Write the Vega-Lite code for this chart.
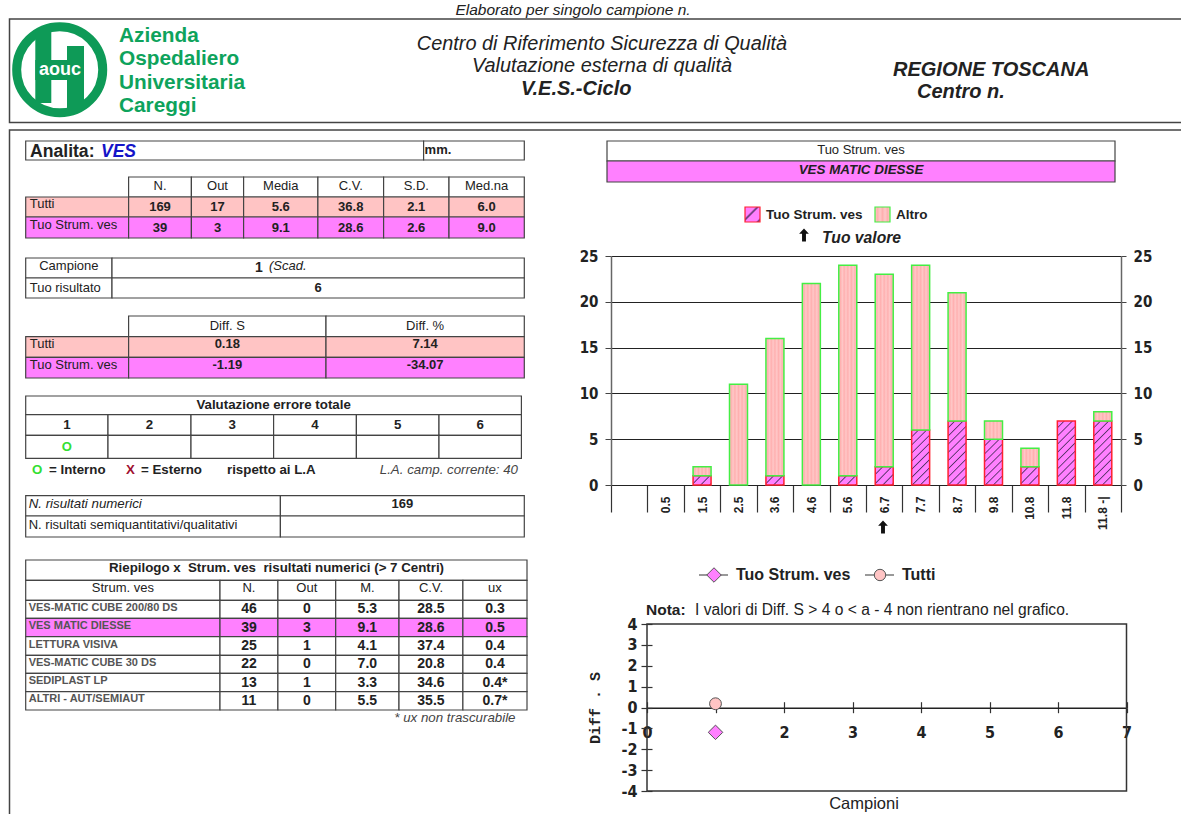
{"$schema":"https://vega.github.io/schema/vega-lite/v6.json","width":1181,"height":814,"padding":0,"autosize":{"type":"none"},"background":"#ffffff","config":{"view":{"stroke":null},"text":{"font":"Liberation Sans","baseline":"middle","fontSize":13,"color":"#222222"},"rect":{"stroke":"#444444","strokeWidth":1.2}},
"resolve":{"scale":{"x":"independent","y":"independent","fill":"independent","stroke":"independent","color":"independent","shape":"independent","size":"independent"},"axis":{"x":"independent","y":"independent"}},
"layer":[
{"data":{"values":[{"c":0,"c2":1,"r":0,"r2":1},{"c":0,"c2":1,"r":2,"r2":3}]},"mark":{"type":"rect","fill":"transparent","stroke":"#444444","strokeWidth":1.5},"encoding":{"x":{"field":"c","type":"quantitative","scale":{"domain":[0,1],"range":[9.5,1300]},"axis":null},"x2":{"field":"c2"},"y":{"field":"r","type":"quantitative","scale":{"domain":[0,1,2,3],"range":[19,122.5,130,900]},"axis":null},"y2":{"field":"r2"}}},
{"data":{"values":[{"c":0,"r":0}]},"mark":{"type":"point","filled":false,"opacity":1,"stroke":"#0e9a57","strokeWidth":9,"size":7400},"encoding":{"x":{"field":"c","type":"quantitative","scale":{"domain":[0,1],"range":[59.7,60.7]},"axis":null},"y":{"field":"r","type":"quantitative","scale":{"domain":[0,1],"range":[69.7,70.7]},"axis":null}}},
{"data":{"values":[{"c":0,"c2":1,"r":0,"r2":4},{"c":2,"c2":3,"r":1,"r2":5},{"c":0,"c2":3,"r":2,"r2":3}]},"mark":{"type":"rect","fill":"#0e9a57","stroke":null},"encoding":{"x":{"field":"c","type":"quantitative","scale":{"domain":[0,1,2,3],"range":[35.3,51.3,67,84]},"axis":null},"x2":{"field":"c2"},"y":{"field":"r","type":"quantitative","scale":{"domain":[0,1,2,3,4,5],"range":[30,46,60,80,103,110]},"axis":null},"y2":{"field":"r2"}}},
{"data":{"values":[{"c":0,"r":0,"v":"aouc"}]},"mark":{"type":"text","fontWeight":"bold","fontSize":18,"color":"#ffffff","align":"center"},"encoding":{"x":{"field":"c","type":"quantitative","scale":{"domain":[0,1],"range":[60,61]},"axis":null},"y":{"field":"r","type":"quantitative","scale":{"domain":[0,1],"range":[70,71]},"axis":null},"text":{"field":"v"}}},
{"data":{"values":[{"c":0,"r":0,"v":"Azienda"},{"c":0,"r":1,"v":"Ospedaliero"},{"c":0,"r":2,"v":"Universitaria"},{"c":0,"r":3,"v":"Careggi"}]},"mark":{"type":"text","fontWeight":"bold","fontSize":20.8,"color":"#0ea35c","align":"left"},"encoding":{"x":{"field":"c","type":"quantitative","scale":{"domain":[0,1],"range":[119,120]},"axis":null},"y":{"field":"r","type":"quantitative","scale":{"domain":[0,3],"range":[36,106]},"axis":null},"text":{"field":"v"}}},
{"data":{"values":[{"c":0,"r":0,"v":"Elaborato per singolo campione n."}]},"mark":{"type":"text","fontStyle":"italic","fontSize":15.5,"align":"center"},"encoding":{"x":{"field":"c","type":"quantitative","scale":{"domain":[0,1],"range":[573,574]},"axis":null},"y":{"field":"r","type":"quantitative","scale":{"domain":[0,1],"range":[10,11]},"axis":null},"text":{"field":"v"}}},
{"data":{"values":[{"c":0,"r":0,"v":"Centro di Riferimento Sicurezza di Qualità"},{"c":0,"r":1,"v":"Valutazione esterna di qualità"}]},"mark":{"type":"text","fontStyle":"italic","fontSize":19.9,"align":"center"},"encoding":{"x":{"field":"c","type":"quantitative","scale":{"domain":[0,1],"range":[602,603]},"axis":null},"y":{"field":"r","type":"quantitative","scale":{"domain":[0,1],"range":[44,66]},"axis":null},"text":{"field":"v"}}},
{"data":{"values":[{"c":0,"r":0,"v":"V.E.S.-Ciclo"},{"c":1,"r":1,"v":"Centro n."},{"c":2,"r":2,"v":"REGIONE TOSCANA"}]},"mark":{"type":"text","fontStyle":"italic","fontWeight":"bold","fontSize":20,"align":"left"},"encoding":{"x":{"field":"c","type":"quantitative","scale":{"domain":[0,1,2],"range":[521,917,893]},"axis":null},"y":{"field":"r","type":"quantitative","scale":{"domain":[0,1,2],"range":[89,92,70]},"axis":null},"text":{"field":"v"}}},

{"data":{"values":[{"r":0,"c":0,"v":""},{"r":0,"c":1,"v":"mm."}]},"transform":[{"calculate":"datum.c+1","as":"c2"},{"calculate":"datum.r+1","as":"r2"}],"layer":[
{"mark":{"type":"rect","fill":"#ffffff"},"encoding":{"x":{"field":"c","type":"quantitative","scale":{"domain":[0,1,2],"range":[25.7,423.6,524.3]},"axis":null},"x2":{"field":"c2"},"y":{"field":"r","type":"quantitative","scale":{"domain":[0,1],"range":[141,160]},"axis":null},"y2":{"field":"r2"}}},
{"mark":{"type":"text","fontWeight":"bold","fontSize":13,"align":"left","dx":1,"dy":9},"encoding":{"x":{"field":"c","type":"quantitative","axis":null},"y":{"field":"r","type":"quantitative","axis":null},"text":{"field":"v"}}}]},
{"data":{"values":[{"c":0,"v":"Analita:"}]},"mark":{"type":"text","fontWeight":"bold","fontSize":17.6,"align":"left"},"encoding":{"x":{"field":"c","type":"quantitative","scale":{"domain":[0,1],"range":[30,31]},"axis":null},"y":{"datum":0,"type":"quantitative","scale":{"domain":[0,1],"range":[152,153]},"axis":null},"text":{"field":"v"}}},
{"data":{"values":[{"c":0,"v":"VES"}]},"mark":{"type":"text","fontWeight":"bold","fontStyle":"italic","fontSize":17.5,"align":"left","color":"#1414c8"},"encoding":{"x":{"field":"c","type":"quantitative","scale":{"domain":[0,1],"range":[101,102]},"axis":null},"y":{"datum":0,"type":"quantitative","scale":{"domain":[0,1],"range":[152,153]},"axis":null},"text":{"field":"v"}}},

{"data":{"values":[{"r":0,"c":1,"v":"N.","k":"h","g":"-"},{"r":0,"c":2,"v":"Out","k":"h","g":"-"},{"r":0,"c":3,"v":"Media","k":"h","g":"-"},{"r":0,"c":4,"v":"C.V.","k":"h","g":"-"},{"r":0,"c":5,"v":"S.D.","k":"h","g":"-"},{"r":0,"c":6,"v":"Med.na","k":"h","g":"-"},
{"r":1,"c":0,"v":"Tutti","k":"l","g":"Tutti"},{"r":1,"c":1,"v":"169","k":"v","g":"Tutti"},{"r":1,"c":2,"v":"17","k":"v","g":"Tutti"},{"r":1,"c":3,"v":"5.6","k":"v","g":"Tutti"},{"r":1,"c":4,"v":"36.8","k":"v","g":"Tutti"},{"r":1,"c":5,"v":"2.1","k":"v","g":"Tutti"},{"r":1,"c":6,"v":"6.0","k":"v","g":"Tutti"},
{"r":2,"c":0,"v":"Tuo Strum. ves","k":"l","g":"Tuo"},{"r":2,"c":1,"v":"39","k":"v","g":"Tuo"},{"r":2,"c":2,"v":"3","k":"v","g":"Tuo"},{"r":2,"c":3,"v":"9.1","k":"v","g":"Tuo"},{"r":2,"c":4,"v":"28.6","k":"v","g":"Tuo"},{"r":2,"c":5,"v":"2.6","k":"v","g":"Tuo"},{"r":2,"c":6,"v":"9.0","k":"v","g":"Tuo"}]},
"transform":[{"calculate":"datum.c+1","as":"c2"},{"calculate":"datum.c+0.5","as":"cm"},{"calculate":"datum.r+1","as":"r2"},{"calculate":"datum.r+0.5","as":"rm"}],"layer":[
{"mark":{"type":"rect"},"encoding":{"x":{"field":"c","type":"quantitative","scale":{"domain":[0,1,2,3,4,5,6,7],"range":[25.7,128.6,191.4,243.6,317.9,383.6,449,524.3]},"axis":null},"x2":{"field":"c2"},"y":{"field":"r","type":"quantitative","scale":{"domain":[0,1,2,3],"range":[177,197,217,238]},"axis":null},"y2":{"field":"r2"},"fill":{"field":"g","type":"nominal","scale":{"domain":["-","Tutti","Tuo"],"range":["#ffffff","#ffc4c4","#ff80ff"]},"legend":null}}},
{"transform":[{"filter":"datum.k=='h'"}],"mark":{"type":"text","align":"center","dy":-1},"encoding":{"x":{"field":"cm","type":"quantitative","axis":null},"y":{"field":"rm","type":"quantitative","axis":null},"text":{"field":"v"}}},
{"transform":[{"filter":"datum.k=='v'"}],"mark":{"type":"text","align":"center","fontWeight":"bold"},"encoding":{"x":{"field":"cm","type":"quantitative","axis":null},"y":{"field":"rm","type":"quantitative","axis":null},"text":{"field":"v"}}},
{"transform":[{"filter":"datum.k=='l'"}],"mark":{"type":"text","align":"left","dx":4,"dy":-3},"encoding":{"x":{"field":"c","type":"quantitative","axis":null},"y":{"field":"rm","type":"quantitative","axis":null},"text":{"field":"v"}}}]},

{"data":{"values":[{"r":0,"c":0,"v":"Campione","k":"h"},{"r":0,"c":1,"v":"","k":"h"},{"r":1,"c":0,"v":"Tuo risultato","k":"l"},{"r":1,"c":1,"v":"6","k":"v"}]},
"transform":[{"calculate":"datum.c+1","as":"c2"},{"calculate":"datum.c+0.5","as":"cm"},{"calculate":"datum.r+1","as":"r2"},{"calculate":"datum.r+0.5","as":"rm"}],"layer":[
{"mark":{"type":"rect","fill":"#ffffff"},"encoding":{"x":{"field":"c","type":"quantitative","scale":{"domain":[0,1,2],"range":[25.7,112,524.3]},"axis":null},"x2":{"field":"c2"},"y":{"field":"r","type":"quantitative","scale":{"domain":[0,1,2],"range":[258,278,298]},"axis":null},"y2":{"field":"r2"}}},
{"transform":[{"filter":"datum.k=='h'"}],"mark":{"type":"text","align":"center","dy":-2},"encoding":{"x":{"field":"cm","type":"quantitative","axis":null},"y":{"field":"rm","type":"quantitative","axis":null},"text":{"field":"v"}}},
{"transform":[{"filter":"datum.k=='v'"}],"mark":{"type":"text","align":"center","fontWeight":"bold"},"encoding":{"x":{"field":"cm","type":"quantitative","axis":null},"y":{"field":"rm","type":"quantitative","axis":null},"text":{"field":"v"}}},
{"transform":[{"filter":"datum.k=='l'"}],"mark":{"type":"text","align":"left","dx":4},"encoding":{"x":{"field":"c","type":"quantitative","axis":null},"y":{"field":"rm","type":"quantitative","axis":null},"text":{"field":"v"}}}]},
{"data":{"values":[{"c":0,"v":"1"}]},"mark":{"type":"text","fontWeight":"bold","fontSize":14,"align":"center"},"encoding":{"x":{"field":"c","type":"quantitative","scale":{"domain":[0,1],"range":[259,260]},"axis":null},"y":{"datum":0,"type":"quantitative","scale":{"domain":[0,1],"range":[268,269]},"axis":null},"text":{"field":"v"}}},
{"data":{"values":[{"c":0,"v":"(Scad."}]},"mark":{"type":"text","fontStyle":"italic","fontSize":13,"align":"left"},"encoding":{"x":{"field":"c","type":"quantitative","scale":{"domain":[0,1],"range":[269,270]},"axis":null},"y":{"datum":0,"type":"quantitative","scale":{"domain":[0,1],"range":[266,267]},"axis":null},"text":{"field":"v"}}},

{"data":{"values":[{"r":0,"c":1,"v":"Diff. S","k":"h","g":"-"},{"r":0,"c":2,"v":"Diff. %","k":"h","g":"-"},
{"r":1,"c":0,"v":"Tutti","k":"l","g":"Tutti"},{"r":1,"c":1,"v":"0.18","k":"v","g":"Tutti"},{"r":1,"c":2,"v":"7.14","k":"v","g":"Tutti"},
{"r":2,"c":0,"v":"Tuo Strum. ves","k":"l","g":"Tuo"},{"r":2,"c":1,"v":"-1.19","k":"v","g":"Tuo"},{"r":2,"c":2,"v":"-34.07","k":"v","g":"Tuo"}]},
"transform":[{"calculate":"datum.c+1","as":"c2"},{"calculate":"datum.c+0.5","as":"cm"},{"calculate":"datum.r+1","as":"r2"},{"calculate":"datum.r+0.5","as":"rm"}],"layer":[
{"mark":{"type":"rect"},"encoding":{"x":{"field":"c","type":"quantitative","scale":{"domain":[0,1,2,3],"range":[25.7,128.6,326,524.3]},"axis":null},"x2":{"field":"c2"},"y":{"field":"r","type":"quantitative","scale":{"domain":[0,1,2,3],"range":[316,336.7,357.3,378]},"axis":null},"y2":{"field":"r2"},"fill":{"field":"g","type":"nominal","scale":{"domain":["-","Tutti","Tuo"],"range":["#ffffff","#ffc4c4","#ff80ff"]},"legend":null}}},
{"transform":[{"filter":"datum.k=='h'"}],"mark":{"type":"text","align":"center"},"encoding":{"x":{"field":"cm","type":"quantitative","axis":null},"y":{"field":"rm","type":"quantitative","axis":null},"text":{"field":"v"}}},
{"transform":[{"filter":"datum.k=='v'"}],"mark":{"type":"text","align":"center","fontWeight":"bold","dy":-3},"encoding":{"x":{"field":"cm","type":"quantitative","axis":null},"y":{"field":"rm","type":"quantitative","axis":null},"text":{"field":"v"}}},
{"transform":[{"filter":"datum.k=='l'"}],"mark":{"type":"text","align":"left","dx":4,"dy":-3},"encoding":{"x":{"field":"c","type":"quantitative","axis":null},"y":{"field":"rm","type":"quantitative","axis":null},"text":{"field":"v"}}}]},

{"data":{"values":[{"r":0,"c":0,"s":6,"v":"Valutazione errore totale","k":"v"},
{"r":1,"c":0,"v":"1","k":"v"},{"r":1,"c":1,"v":"2","k":"v"},{"r":1,"c":2,"v":"3","k":"v"},{"r":1,"c":3,"v":"4","k":"v"},{"r":1,"c":4,"v":"5","k":"v"},{"r":1,"c":5,"v":"6","k":"v"},
{"r":2,"c":0,"v":"O","k":"o"},{"r":2,"c":1,"v":"","k":"o"},{"r":2,"c":2,"v":"","k":"o"},{"r":2,"c":3,"v":"","k":"o"},{"r":2,"c":4,"v":"","k":"o"},{"r":2,"c":5,"v":"","k":"o"}]},
"transform":[{"calculate":"datum.c+(datum.s||1)","as":"c2"},{"calculate":"datum.c+(datum.s||1)/2","as":"cm"},{"calculate":"datum.r+1","as":"r2"},{"calculate":"datum.r+0.5","as":"rm"}],"layer":[
{"mark":{"type":"rect","fill":"#ffffff"},"encoding":{"x":{"field":"c","type":"quantitative","scale":{"domain":[0,1,2,3,4,5,6],"range":[25.7,108,191,273.6,356.4,439,521.4]},"axis":null},"x2":{"field":"c2"},"y":{"field":"r","type":"quantitative","scale":{"domain":[0,1,2,3],"range":[396,414.7,435.3,458.3]},"axis":null},"y2":{"field":"r2"}}},
{"transform":[{"filter":"datum.k=='v'"}],"mark":{"type":"text","align":"center","fontWeight":"bold","fontSize":13.3},"encoding":{"x":{"field":"cm","type":"quantitative","axis":null},"y":{"field":"rm","type":"quantitative","axis":null},"text":{"field":"v"}}},
{"transform":[{"filter":"datum.k=='o'"}],"mark":{"type":"text","align":"center","fontWeight":"bold","color":"#33e033"},"encoding":{"x":{"field":"cm","type":"quantitative","axis":null},"y":{"field":"rm","type":"quantitative","axis":null},"text":{"field":"v"}}}]},
{"data":{"values":[{"c":0,"v":"O"},{"c":1,"v":"= Interno"},{"c":2,"v":"X"},{"c":3,"v":"= Esterno"},{"c":4,"v":"rispetto ai L.A"}]},"mark":{"type":"text","fontWeight":"bold","fontSize":13.3,"align":"left"},"encoding":{"x":{"field":"c","type":"quantitative","scale":{"domain":[0,1,2,3,4],"range":[32,49,126,141,227]},"axis":null},"y":{"datum":0,"type":"quantitative","scale":{"domain":[0,1],"range":[470,471]},"axis":null},"text":{"field":"v"},"color":{"field":"v","type":"nominal","scale":{"domain":["O","X","= Interno","= Esterno","rispetto ai L.A"],"range":["#33e033","#a01030","#222222","#222222","#222222"]},"legend":null}}},
{"data":{"values":[{"r":0,"v":"L.A. camp. corrente: 40"},{"r":1,"v":"* ux non trascurabile"}]},"mark":{"type":"text","fontStyle":"italic","fontSize":13.3,"align":"right","color":"#444444"},"encoding":{"x":{"field":"r","type":"quantitative","scale":{"domain":[0,1],"range":[518,515.5]},"axis":null},"y":{"field":"r","type":"quantitative","scale":{"domain":[0,1],"range":[470,718]},"axis":null},"text":{"field":"v"}}},

{"data":{"values":[{"r":0,"c":0,"v":"N. risultati numerici","k":"i"},{"r":0,"c":1,"v":"169","k":"v"},{"r":1,"c":0,"v":"N. risultati semiquantitativi/qualitativi","k":"l"},{"r":1,"c":1,"v":"","k":"v"}]},
"transform":[{"calculate":"datum.c+1","as":"c2"},{"calculate":"datum.c+0.5","as":"cm"},{"calculate":"datum.r+1","as":"r2"},{"calculate":"datum.r+0.5","as":"rm"}],"layer":[
{"mark":{"type":"rect","fill":"#ffffff"},"encoding":{"x":{"field":"c","type":"quantitative","scale":{"domain":[0,1,2],"range":[25.7,280.4,524.3]},"axis":null},"x2":{"field":"c2"},"y":{"field":"r","type":"quantitative","scale":{"domain":[0,1,2],"range":[495.7,516,537]},"axis":null},"y2":{"field":"r2"}}},
{"transform":[{"filter":"datum.k=='v'"}],"mark":{"type":"text","align":"center","fontWeight":"bold","dy":-2},"encoding":{"x":{"field":"cm","type":"quantitative","axis":null},"y":{"field":"rm","type":"quantitative","axis":null},"text":{"field":"v"}}},
{"transform":[{"filter":"datum.k=='i'"}],"mark":{"type":"text","align":"left","fontStyle":"italic","fontSize":13.3,"dx":3,"dy":-2},"encoding":{"x":{"field":"c","type":"quantitative","axis":null},"y":{"field":"rm","type":"quantitative","axis":null},"text":{"field":"v"}}},
{"transform":[{"filter":"datum.k=='l'"}],"mark":{"type":"text","align":"left","dx":3,"dy":-2},"encoding":{"x":{"field":"c","type":"quantitative","axis":null},"y":{"field":"rm","type":"quantitative","axis":null},"text":{"field":"v"}}}]},

{"data":{"values":[{"r":0,"c":0,"s":6,"v":"","k":"t","g":"-"},
{"r":1,"c":0,"v":"Strum. ves","k":"h","g":"-"},{"r":1,"c":1,"v":"N.","k":"h","g":"-"},{"r":1,"c":2,"v":"Out","k":"h","g":"-"},{"r":1,"c":3,"v":"M.","k":"h","g":"-"},{"r":1,"c":4,"v":"C.V.","k":"h","g":"-"},{"r":1,"c":5,"v":"ux","k":"h","g":"-"},
{"r":2,"c":0,"v":"VES-MATIC CUBE 200/80 DS","k":"s","g":"-"},{"r":2,"c":1,"v":"46","k":"v","g":"-"},{"r":2,"c":2,"v":"0","k":"v","g":"-"},{"r":2,"c":3,"v":"5.3","k":"v","g":"-"},{"r":2,"c":4,"v":"28.5","k":"v","g":"-"},{"r":2,"c":5,"v":"0.3","k":"v","g":"-"},
{"r":3,"c":0,"v":"VES MATIC DIESSE","k":"s","g":"Tuo"},{"r":3,"c":1,"v":"39","k":"v","g":"Tuo"},{"r":3,"c":2,"v":"3","k":"v","g":"Tuo"},{"r":3,"c":3,"v":"9.1","k":"v","g":"Tuo"},{"r":3,"c":4,"v":"28.6","k":"v","g":"Tuo"},{"r":3,"c":5,"v":"0.5","k":"v","g":"Tuo"},
{"r":4,"c":0,"v":"LETTURA VISIVA","k":"s","g":"-"},{"r":4,"c":1,"v":"25","k":"v","g":"-"},{"r":4,"c":2,"v":"1","k":"v","g":"-"},{"r":4,"c":3,"v":"4.1","k":"v","g":"-"},{"r":4,"c":4,"v":"37.4","k":"v","g":"-"},{"r":4,"c":5,"v":"0.4","k":"v","g":"-"},
{"r":5,"c":0,"v":"VES-MATIC CUBE 30 DS","k":"s","g":"-"},{"r":5,"c":1,"v":"22","k":"v","g":"-"},{"r":5,"c":2,"v":"0","k":"v","g":"-"},{"r":5,"c":3,"v":"7.0","k":"v","g":"-"},{"r":5,"c":4,"v":"20.8","k":"v","g":"-"},{"r":5,"c":5,"v":"0.4","k":"v","g":"-"},
{"r":6,"c":0,"v":"SEDIPLAST LP","k":"s","g":"-"},{"r":6,"c":1,"v":"13","k":"v","g":"-"},{"r":6,"c":2,"v":"1","k":"v","g":"-"},{"r":6,"c":3,"v":"3.3","k":"v","g":"-"},{"r":6,"c":4,"v":"34.6","k":"v","g":"-"},{"r":6,"c":5,"v":"0.4*","k":"v","g":"-"},
{"r":7,"c":0,"v":"ALTRI - AUT/SEMIAUT","k":"s","g":"-"},{"r":7,"c":1,"v":"11","k":"v","g":"-"},{"r":7,"c":2,"v":"0","k":"v","g":"-"},{"r":7,"c":3,"v":"5.5","k":"v","g":"-"},{"r":7,"c":4,"v":"35.5","k":"v","g":"-"},{"r":7,"c":5,"v":"0.7*","k":"v","g":"-"}]},
"transform":[{"calculate":"datum.c+(datum.s||1)","as":"c2"},{"calculate":"datum.c+(datum.s||1)/2","as":"cm"},{"calculate":"datum.r+1","as":"r2"},{"calculate":"datum.r+0.5","as":"rm"}],"layer":[
{"mark":{"type":"rect"},"encoding":{"x":{"field":"c","type":"quantitative","scale":{"domain":[0,1,2,3,4,5,6],"range":[25.7,220,277.9,335.7,399,462.9,527]},"axis":null},"x2":{"field":"c2"},"y":{"field":"r","type":"quantitative","scale":{"domain":[0,1,2,3,4,5,6,7,8],"range":[560,580.3,600.3,618.3,636.7,655.3,673.3,691.7,710]},"axis":null},"y2":{"field":"r2"},"fill":{"field":"g","type":"nominal","scale":{"domain":["-","Tuo"],"range":["#ffffff","#ff80ff"]},"legend":null}}},
{"transform":[{"filter":"datum.k=='h'"}],"mark":{"type":"text","align":"center","dy":-2},"encoding":{"x":{"field":"cm","type":"quantitative","axis":null},"y":{"field":"rm","type":"quantitative","axis":null},"text":{"field":"v"}}},
{"transform":[{"filter":"datum.k=='v'"}],"mark":{"type":"text","align":"center","fontWeight":"bold","fontSize":14},"encoding":{"x":{"field":"cm","type":"quantitative","axis":null},"y":{"field":"rm","type":"quantitative","axis":null},"text":{"field":"v"}}},
{"transform":[{"filter":"datum.k=='s'"}],"mark":{"type":"text","align":"left","fontWeight":"bold","fontSize":11,"color":"#555555","dx":3,"dy":-1.5},"encoding":{"x":{"field":"c","type":"quantitative","axis":null},"y":{"field":"rm","type":"quantitative","axis":null},"text":{"field":"v"}}}]},
{"data":{"values":[{"c":0,"v":"Riepilogo x\u00a0\u00a0Strum. ves\u00a0\u00a0risultati numerici (> 7 Centri)"}]},"mark":{"type":"text","align":"center","fontWeight":"bold","fontSize":13.3},"encoding":{"x":{"field":"c","type":"quantitative","scale":{"domain":[0,1],"range":[276.5,277.5]},"axis":null},"y":{"datum":0,"type":"quantitative","scale":{"domain":[0,1],"range":[568,569]},"axis":null},"text":{"field":"v"}}},

{"data":{"values":[{"r":0,"v":"Tuo Strum. ves","g":"-"},{"r":1,"v":"VES MATIC DIESSE","g":"Tuo"}]},"transform":[{"calculate":"datum.r+1","as":"r2"},{"calculate":"datum.r+0.5","as":"rm"},{"calculate":"0","as":"c"},{"calculate":"1","as":"c2"},{"calculate":"0.5","as":"cm"}],"layer":[
{"mark":{"type":"rect"},"encoding":{"x":{"field":"c","type":"quantitative","scale":{"domain":[0,1],"range":[607,1115]},"axis":null},"x2":{"field":"c2"},"y":{"field":"r","type":"quantitative","scale":{"domain":[0,1,2],"range":[141,161,182]},"axis":null},"y2":{"field":"r2"},"fill":{"field":"g","type":"nominal","scale":{"domain":["-","Tuo"],"range":["#ffffff","#ff80ff"]},"legend":null}}},
{"transform":[{"filter":"datum.r==0"}],"mark":{"type":"text","align":"center","fontSize":13,"dy":-1},"encoding":{"x":{"field":"cm","type":"quantitative","axis":null},"y":{"field":"rm","type":"quantitative","axis":null},"text":{"field":"v"}}},
{"transform":[{"filter":"datum.r==1"}],"mark":{"type":"text","align":"center","fontSize":13.4,"fontWeight":"bold","fontStyle":"italic","dy":-2},"encoding":{"x":{"field":"cm","type":"quantitative","axis":null},"y":{"field":"rm","type":"quantitative","axis":null},"text":{"field":"v"}}}]},

{"data":{"values":[{"serie":"Tuo Strum. ves","c":0,"c2":1},{"serie":"Altro","c":2,"c2":3}]},"mark":{"type":"rect"},"encoding":{"x":{"field":"c","type":"quantitative","scale":{"domain":[0,1,2,3],"range":[745,760,875,890]},"axis":null},"x2":{"field":"c2"},"y":{"datum":0,"type":"quantitative","scale":{"domain":[0,1],"range":[207,222]},"axis":null},"y2":{"datum":1},"stroke":{"field":"serie","type":"nominal","scale":{"domain":["Tuo Strum. ves","Altro"],"range":["#ff2030","#44ee44"]},"legend":null},
"fill":{"condition":{"test":"datum.serie=='Altro'","value":{"gradient":"linear","x1":0,"y1":0,"x2":1,"y2":0,"stops":[{"offset":0,"color":"#ffc8c8"},{"offset":0.17,"color":"#ffb0b0"},{"offset":0.34,"color":"#ffc8c8"},{"offset":0.5,"color":"#ffb0b0"},{"offset":0.67,"color":"#ffc8c8"},{"offset":0.84,"color":"#ffb0b0"},{"offset":1,"color":"#ffc8c8"}]}},"value":{"gradient":"linear","x1":0,"y1":0,"x2":1,"y2":1,"stops":[{"offset":0,"color":"#ff80ff"},{"offset":0.35,"color":"#ff80ff"},{"offset":0.42,"color":"#553366"},{"offset":0.5,"color":"#ff80ff"},{"offset":0.85,"color":"#ff80ff"},{"offset":0.92,"color":"#553366"},{"offset":1,"color":"#ff80ff"}]}}}},
{"data":{"values":[{"c":0,"v":"Tuo Strum. ves"},{"c":1,"v":"Altro"}]},"mark":{"type":"text","fontWeight":"bold","fontSize":13.5,"align":"left"},"encoding":{"x":{"field":"c","type":"quantitative","scale":{"domain":[0,1],"range":[766,896]},"axis":null},"y":{"datum":0,"type":"quantitative","scale":{"domain":[0,1],"range":[215,216]},"axis":null},"text":{"field":"v"}}},
{"data":{"values":[{"c":0,"r":0},{"c":1,"r":1}]},"mark":{"type":"point","filled":true,"color":"#111111","opacity":1,"size":170,"shape":"M0,-1L0.75,-0.2L0.3,-0.2L0.3,1L-0.3,1L-0.3,-0.2L-0.75,-0.2Z"},"encoding":{"x":{"field":"c","type":"quantitative","scale":{"domain":[0,1],"range":[804,883]},"axis":null},"y":{"field":"r","type":"quantitative","scale":{"domain":[0,1],"range":[235,527]},"axis":null}}},
{"data":{"values":[{"c":0,"v":"Tuo valore"}]},"mark":{"type":"text","fontWeight":"bold","fontStyle":"italic","fontSize":15.7,"align":"left"},"encoding":{"x":{"field":"c","type":"quantitative","scale":{"domain":[0,1],"range":[822,823]},"axis":null},"y":{"datum":0,"type":"quantitative","scale":{"domain":[0,1],"range":[238,239]},"axis":null},"text":{"field":"v"}}},

{"data":{"name":"ghostY","values":[{"n":0},{"n":25}]},"mark":{"type":"rule","opacity":0},"encoding":{"y":{"field":"n","type":"quantitative","scale":{"domain":[0,25],"range":[485,256]},"axis":{"orient":"right","offset":-60,"values":[0,5,10,15,20,25],"title":null,"grid":false,"tickSize":5,"tickColor":"#444444","domainColor":"#666666","domainWidth":1.5,"labelFont":"DejaVu Sans Condensed","labelFontWeight":"bold","labelFontSize":15,"labelColor":"#222222","labelPadding":7}}}},

{"data":{"values":[
{"bin":"1.5","serie":"Tuo Strum. ves","n":1},{"bin":"1.5","serie":"Altro","n":1},
{"bin":"2.5","serie":"Altro","n":11},
{"bin":"3.6","serie":"Tuo Strum. ves","n":1},{"bin":"3.6","serie":"Altro","n":15},
{"bin":"4.6","serie":"Altro","n":22},
{"bin":"5.6","serie":"Tuo Strum. ves","n":1},{"bin":"5.6","serie":"Altro","n":23},
{"bin":"6.7","serie":"Tuo Strum. ves","n":2},{"bin":"6.7","serie":"Altro","n":21},
{"bin":"7.7","serie":"Tuo Strum. ves","n":6},{"bin":"7.7","serie":"Altro","n":18},
{"bin":"8.7","serie":"Tuo Strum. ves","n":7},{"bin":"8.7","serie":"Altro","n":14},
{"bin":"9.8","serie":"Tuo Strum. ves","n":5},{"bin":"9.8","serie":"Altro","n":2},
{"bin":"10.8","serie":"Tuo Strum. ves","n":2},{"bin":"10.8","serie":"Altro","n":2},
{"bin":"11.8","serie":"Tuo Strum. ves","n":7},
{"bin":"11.8 -|","serie":"Tuo Strum. ves","n":7},{"bin":"11.8 -|","serie":"Altro","n":1}]},
"mark":{"type":"bar","width":18,"strokeWidth":1.5},
"encoding":{
"x":{"field":"bin","type":"nominal","sort":null,"scale":{"domain":[" ","0.5","1.5","2.5","3.6","4.6","5.6","6.7","7.7","8.7","9.8","10.8","11.8","11.8 -|"],"range":[611,1121],"paddingInner":0,"paddingOuter":0},"axis":{"orient":"bottom","offset":-329,"title":null,"tickBand":"extent","tickSize":27,"tickColor":"#333333","tickWidth":1.2,"domainColor":"#222222","domainWidth":1.2,"labelAngle":270,"labelAlign":"right","labelBaseline":"middle","labelPadding":-16,"labelFont":"Liberation Sans","labelFontWeight":"bold","labelFontSize":12,"labelColor":"#222222","labelOverlap":false,"labelBound":false}},
"y":{"field":"n","type":"quantitative","stack":"zero","scale":{"domain":[0,25],"range":[485,256]},"axis":{"orient":"left","offset":-611,"values":[0,5,10,15,20,25],"title":null,"grid":true,"gridColor":"#222222","gridWidth":1.2,"tickSize":6,"tickColor":"#444444","domainColor":"#666666","domainWidth":1.5,"labelFont":"DejaVu Sans Condensed","labelFontWeight":"bold","labelFontSize":15,"labelColor":"#222222","labelPadding":7}},
"order":{"field":"serie","sort":"descending"},
"stroke":{"field":"serie","type":"nominal","scale":{"domain":["Tuo Strum. ves","Altro"],"range":["#ff2030","#44ee44"]},"legend":null},
"fill":{"condition":[
{"test":"datum.serie=='Altro'","value":{"gradient":"linear","x1":0,"y1":0,"x2":1,"y2":0,"stops":[{"offset":0,"color":"#ffc8c8"},{"offset":0.1,"color":"#ffb0b0"},{"offset":0.2,"color":"#ffc8c8"},{"offset":0.3,"color":"#ffb0b0"},{"offset":0.4,"color":"#ffc8c8"},{"offset":0.5,"color":"#ffb0b0"},{"offset":0.6,"color":"#ffc8c8"},{"offset":0.7,"color":"#ffb0b0"},{"offset":0.8,"color":"#ffc8c8"},{"offset":0.9,"color":"#ffb0b0"},{"offset":1,"color":"#ffc8c8"}]}},
{"test":"datum.n==1","value":{"gradient":"linear","x1":0,"y1":0,"x2":1.2,"y2":0.6,"stops":[{"offset":0,"color":"#ff80ff"},{"offset":0.233,"color":"#ff80ff"},{"offset":0.283,"color":"#553366"},{"offset":0.333,"color":"#ff80ff"},{"offset":0.567,"color":"#ff80ff"},{"offset":0.617,"color":"#553366"},{"offset":0.667,"color":"#ff80ff"},{"offset":0.9,"color":"#ff80ff"},{"offset":0.95,"color":"#553366"},{"offset":1,"color":"#ff80ff"}]}},
{"test":"datum.n==2","value":{"gradient":"linear","x1":0,"y1":0,"x2":1,"y2":1,"stops":[{"offset":0,"color":"#ff80ff"},{"offset":0.175,"color":"#ff80ff"},{"offset":0.2125,"color":"#553366"},{"offset":0.25,"color":"#ff80ff"},{"offset":0.425,"color":"#ff80ff"},{"offset":0.4625,"color":"#553366"},{"offset":0.5,"color":"#ff80ff"},{"offset":0.675,"color":"#ff80ff"},{"offset":0.7125,"color":"#553366"},{"offset":0.75,"color":"#ff80ff"},{"offset":0.925,"color":"#ff80ff"},{"offset":0.9625,"color":"#553366"},{"offset":1,"color":"#ff80ff"}]}},
{"test":"datum.n==5","value":{"gradient":"linear","x1":0,"y1":0,"x2":0.472,"y2":1.207,"stops":[{"offset":0,"color":"#ff80ff"},{"offset":0.0875,"color":"#ff80ff"},{"offset":0.106,"color":"#553366"},{"offset":0.125,"color":"#ff80ff"},{"offset":0.2125,"color":"#ff80ff"},{"offset":0.231,"color":"#553366"},{"offset":0.25,"color":"#ff80ff"},{"offset":0.3375,"color":"#ff80ff"},{"offset":0.356,"color":"#553366"},{"offset":0.375,"color":"#ff80ff"},{"offset":0.4625,"color":"#ff80ff"},{"offset":0.481,"color":"#553366"},{"offset":0.5,"color":"#ff80ff"},{"offset":0.5875,"color":"#ff80ff"},{"offset":0.606,"color":"#553366"},{"offset":0.625,"color":"#ff80ff"},{"offset":0.7125,"color":"#ff80ff"},{"offset":0.731,"color":"#553366"},{"offset":0.75,"color":"#ff80ff"},{"offset":0.8375,"color":"#ff80ff"},{"offset":0.856,"color":"#553366"},{"offset":0.875,"color":"#ff80ff"},{"offset":0.9625,"color":"#ff80ff"},{"offset":0.981,"color":"#553366"},{"offset":1,"color":"#ff80ff"}]}},
{"test":"datum.n==6","value":{"gradient":"linear","x1":0,"y1":0,"x2":0.392,"y2":1.199,"stops":[{"offset":0,"color":"#ff80ff"},{"offset":0.078,"color":"#ff80ff"},{"offset":0.094,"color":"#553366"},{"offset":0.111,"color":"#ff80ff"},{"offset":0.189,"color":"#ff80ff"},{"offset":0.205,"color":"#553366"},{"offset":0.222,"color":"#ff80ff"},{"offset":0.3,"color":"#ff80ff"},{"offset":0.316,"color":"#553366"},{"offset":0.333,"color":"#ff80ff"},{"offset":0.411,"color":"#ff80ff"},{"offset":0.427,"color":"#553366"},{"offset":0.444,"color":"#ff80ff"},{"offset":0.522,"color":"#ff80ff"},{"offset":0.538,"color":"#553366"},{"offset":0.556,"color":"#ff80ff"},{"offset":0.633,"color":"#ff80ff"},{"offset":0.649,"color":"#553366"},{"offset":0.667,"color":"#ff80ff"},{"offset":0.744,"color":"#ff80ff"},{"offset":0.76,"color":"#553366"},{"offset":0.778,"color":"#ff80ff"},{"offset":0.856,"color":"#ff80ff"},{"offset":0.871,"color":"#553366"},{"offset":0.889,"color":"#ff80ff"},{"offset":0.967,"color":"#ff80ff"},{"offset":0.982,"color":"#553366"},{"offset":1,"color":"#ff80ff"}]}}],
"value":{"gradient":"linear","x1":0,"y1":0,"x2":0.334,"y2":1.187,"stops":[{"offset":0,"color":"#ff80ff"},{"offset":0.07,"color":"#ff80ff"},{"offset":0.085,"color":"#553366"},{"offset":0.1,"color":"#ff80ff"},{"offset":0.17,"color":"#ff80ff"},{"offset":0.185,"color":"#553366"},{"offset":0.2,"color":"#ff80ff"},{"offset":0.27,"color":"#ff80ff"},{"offset":0.285,"color":"#553366"},{"offset":0.3,"color":"#ff80ff"},{"offset":0.37,"color":"#ff80ff"},{"offset":0.385,"color":"#553366"},{"offset":0.4,"color":"#ff80ff"},{"offset":0.47,"color":"#ff80ff"},{"offset":0.485,"color":"#553366"},{"offset":0.5,"color":"#ff80ff"},{"offset":0.57,"color":"#ff80ff"},{"offset":0.585,"color":"#553366"},{"offset":0.6,"color":"#ff80ff"},{"offset":0.67,"color":"#ff80ff"},{"offset":0.685,"color":"#553366"},{"offset":0.7,"color":"#ff80ff"},{"offset":0.77,"color":"#ff80ff"},{"offset":0.785,"color":"#553366"},{"offset":0.8,"color":"#ff80ff"},{"offset":0.87,"color":"#ff80ff"},{"offset":0.885,"color":"#553366"},{"offset":0.9,"color":"#ff80ff"},{"offset":0.97,"color":"#ff80ff"},{"offset":0.985,"color":"#553366"},{"offset":1,"color":"#ff80ff"}]}}}},

{"data":{"values":[{"c":0,"c2":1},{"c":2,"c2":3}]},"mark":{"type":"rule","color":"#555555","strokeWidth":1.2},"encoding":{"x":{"field":"c","type":"quantitative","scale":{"domain":[0,1,2,3],"range":[699,728,865,894]},"axis":null},"x2":{"field":"c2"},"y":{"datum":0,"type":"quantitative","scale":{"domain":[0,1],"range":[575,576]},"axis":null}}},
{"data":{"values":[{"c":0,"serie":"Tuo Strum. ves"},{"c":1,"serie":"Tutti"}]},"mark":{"type":"point","filled":true,"opacity":1,"stroke":"#555555","strokeWidth":1},"encoding":{"x":{"field":"c","type":"quantitative","scale":{"domain":[0,1],"range":[714,880]},"axis":null},"y":{"datum":0,"type":"quantitative","scale":{"domain":[0,1],"range":[575,576]},"axis":null},"size":{"field":"serie","type":"ordinal","scale":{"domain":["Tuo Strum. ves","Tutti"],"range":[210,130]},"legend":null},"shape":{"field":"serie","type":"nominal","scale":{"domain":["Tuo Strum. ves","Tutti"],"range":["diamond","circle"]},"legend":null},"fill":{"field":"serie","type":"nominal","scale":{"domain":["Tuo Strum. ves","Tutti"],"range":["#ff80ff","#ffc4c4"]},"legend":null}}},
{"data":{"values":[{"c":0,"v":"Tuo Strum. ves"},{"c":1,"v":"Tutti"}]},"mark":{"type":"text","fontWeight":"bold","fontSize":16,"align":"left"},"encoding":{"x":{"field":"c","type":"quantitative","scale":{"domain":[0,1],"range":[736,902]},"axis":null},"y":{"datum":0,"type":"quantitative","scale":{"domain":[0,1],"range":[575,576]},"axis":null},"text":{"field":"v"}}},

{"data":{"values":[{"c":0,"v":"Nota:"}]},"mark":{"type":"text","fontWeight":"bold","fontSize":15.5,"align":"left"},"encoding":{"x":{"field":"c","type":"quantitative","scale":{"domain":[0,1],"range":[646,647]},"axis":null},"y":{"datum":0,"type":"quantitative","scale":{"domain":[0,1],"range":[610,611]},"axis":null},"text":{"field":"v"}}},
{"data":{"values":[{"c":0,"v":"I valori di Diff. S > 4 o < a - 4 non rientrano nel grafico."}]},"mark":{"type":"text","fontSize":15.6,"align":"left"},"encoding":{"x":{"field":"c","type":"quantitative","scale":{"domain":[0,1],"range":[695,696]},"axis":null},"y":{"datum":0,"type":"quantitative","scale":{"domain":[0,1],"range":[610,611]},"axis":null},"text":{"field":"v"}}},

{"data":{"values":[{"c":0,"c2":1}]},"mark":{"type":"rect","fill":"transparent","stroke":"#333333","strokeWidth":1.5},"encoding":{"x":{"field":"c","type":"quantitative","scale":{"domain":[0,1],"range":[647,1126.5]},"axis":null},"x2":{"field":"c2"},"y":{"datum":0,"type":"quantitative","scale":{"domain":[0,1],"range":[624,791]},"axis":null},"y2":{"datum":1}}},
{"data":{"values":[{"x":0,"y":0},{"x":7,"y":0}]},"mark":{"type":"rule","opacity":0},"encoding":{"x":{"field":"x","type":"quantitative","scale":{"domain":[0,7],"range":[647,1126.5]},"axis":{"orient":"top","offset":-707.7,"values":[0,1,2,3,4,5,6,7],"title":null,"labels":false,"domain":false,"tickSize":6,"tickColor":"#333333","tickWidth":1.2}},"y":{"field":"y","type":"quantitative","scale":{"domain":[-4,4],"range":[791,624]},"axis":{"orient":"right","offset":-534,"values":[-4,-3,-2,-1,0,1,2,3,4],"title":null,"labels":false,"domain":false,"tickSize":5,"tickColor":"#333333","tickWidth":1.2}}}},
{"data":{"values":[{"campione":1,"serie":"Tuo Strum. ves","diff":-1.19},{"campione":1,"serie":"Tutti","diff":0.18}]},"mark":{"type":"point","filled":true,"opacity":1,"stroke":"#555555","strokeWidth":1},"encoding":{
"x":{"field":"campione","type":"quantitative","scale":{"domain":[0,7],"range":[647,1126.5]},"axis":{"orient":"bottom","offset":-106.3,"values":[0,1,2,3,4,5,6,7],"title":null,"domainColor":"#222222","domainWidth":1.5,"tickSize":5,"tickColor":"#333333","tickWidth":1.2,"labelPadding":12,"labelFont":"DejaVu Sans Condensed","labelFontWeight":"bold","labelFontSize":16,"labelColor":"#222222","labelBound":false,"labelFlush":false,"labelOverlap":false,"labelExpr":"datum.value==1?'':''+datum.value"}},
"y":{"field":"diff","type":"quantitative","scale":{"domain":[-4,4],"range":[791,624]},"axis":{"orient":"left","offset":-647,"values":[-4,-3,-2,-1,0,1,2,3,4],"title":null,"domain":false,"tickSize":6,"tickColor":"#333333","tickWidth":1.2,"labelPadding":4,"labelFont":"DejaVu Sans Condensed","labelFontWeight":"bold","labelFontSize":16,"labelColor":"#222222","labelExpr":"''+datum.value","labelOverlap":false,"labelBound":false}},
"size":{"field":"serie","type":"ordinal","scale":{"domain":["Tuo Strum. ves","Tutti"],"range":[210,140]},"legend":null},
"shape":{"field":"serie","type":"nominal","scale":{"domain":["Tuo Strum. ves","Tutti"],"range":["diamond","circle"]},"legend":null},
"fill":{"field":"serie","type":"nominal","scale":{"domain":["Tuo Strum. ves","Tutti"],"range":["#ff80ff","#ffc4c4"]},"legend":null}}},
{"data":{"values":[{"v":"Diff . S"}]},"mark":{"type":"text","font":"Liberation Mono","fontWeight":"bold","fontSize":15,"angle":270,"align":"center"},"encoding":{"x":{"datum":0,"type":"quantitative","scale":{"domain":[0,1],"range":[595,596]},"axis":null},"y":{"datum":0,"type":"quantitative","scale":{"domain":[0,1],"range":[708,709]},"axis":null},"text":{"field":"v"}}},
{"data":{"values":[{"v":"Campioni"}]},"mark":{"type":"text","fontSize":16.5,"align":"center"},"encoding":{"x":{"datum":0,"type":"quantitative","scale":{"domain":[0,1],"range":[864,865]},"axis":null},"y":{"datum":0,"type":"quantitative","scale":{"domain":[0,1],"range":[804,805]},"axis":null},"text":{"field":"v"}}}
]}
